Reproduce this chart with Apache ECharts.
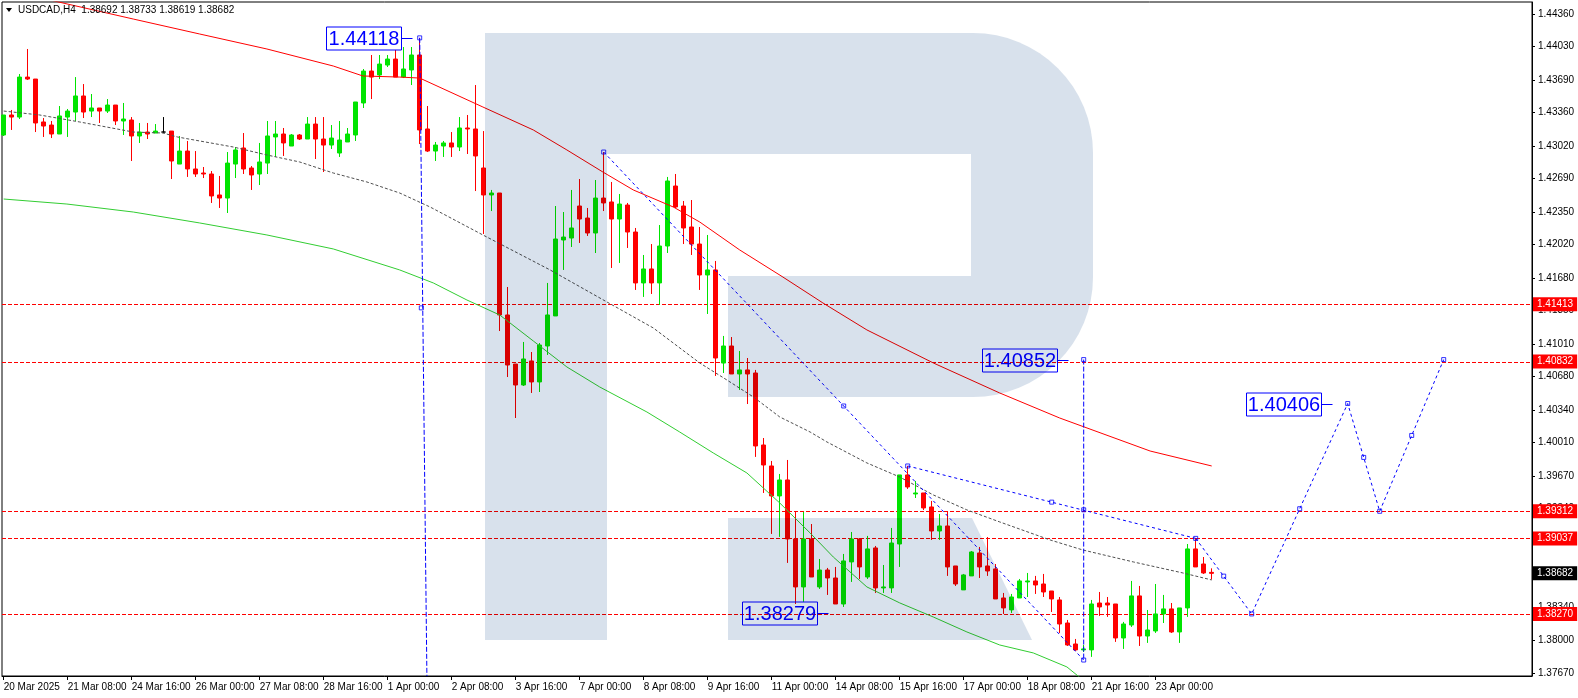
<!DOCTYPE html>
<html><head><meta charset="utf-8">
<script src="https://cdn.jsdelivr.net/npm/echarts@6/dist/echarts.min.js"></script>
<style>html,body{margin:0;padding:0;background:#fff;}#c{width:1578px;height:698px;}</style>
</head><body><div id="c"></div>
<script>
// ---- candles (H4 bars, index 0 = 20 Mar 2025 00:00) ----
const opens = [1.43132,1.43335,1.43314,1.43720,1.43700,1.43264,1.43233,1.43142,1.43314,1.43365,
1.43528,1.43375,1.43406,1.43375,1.43436,1.43274,1.43284,1.43122,1.43162,1.43152,
1.43162,1.43172,1.42837,1.42969,1.42787,1.42746,1.42736,1.42523,1.42492,1.42837,
1.43000,1.42797,1.42736,1.42847,1.43112,1.43142,1.43020,1.43132,1.43091,1.43243,
1.43091,1.43030,1.42949,1.43061,1.43132,1.43457,1.43781,1.43741,1.43842,1.43903,
1.43720,1.43792,1.43944,1.43193,1.42969,1.43020,1.43051,1.43010,1.43203,1.43193,
1.42797,1.42523,1.42543,1.41305,1.40807,1.40594,1.40838,1.40625,1.40990,1.41295,
1.42066,1.42086,1.42411,1.42289,1.42137,1.42492,1.42452,1.42279,1.42421,1.42147,
1.41630,1.41772,1.41630,1.42005,1.42614,1.42411,1.42198,1.42025,1.41711,1.41762,
1.40817,1.40990,1.40706,1.40747,1.40716,1.39985,1.39772,1.39468,1.39630,1.39031,
1.38544,1.39031,1.38544,1.38716,1.38635,1.38371,1.38798,1.39031,1.38645,1.38940,
1.38534,1.38534,1.38980,1.39681,1.39488,1.39498,1.39356,1.39112,1.39163,1.38757,
1.38514,1.38656,1.38889,1.38757,1.38727,1.38432,1.38311,1.38432,1.38595,1.38605,
1.38574,1.38503,1.38412,1.38178,1.37965,1.37905,1.37905,1.38381,1.38381,1.38371,
1.38026,1.38158,1.38453,1.38046,1.38097,1.38270,1.38321,1.38087,1.38331,1.38930,
1.38777,1.38692];
const highs = [1.43335,1.43386,1.43751,1.44005,1.43700,1.43304,1.43274,1.43426,1.43396,1.43720,
1.43649,1.43548,1.43406,1.43497,1.43436,1.43457,1.43314,1.43254,1.43254,1.43243,
1.43314,1.43172,1.43122,1.43071,1.42969,1.42807,1.42766,1.42716,1.42959,1.43010,
1.43152,1.42817,1.43051,1.43274,1.43274,1.43203,1.43142,1.43142,1.43314,1.43314,
1.43314,1.43233,1.43274,1.43203,1.43467,1.43802,1.43944,1.43944,1.43944,1.43995,
1.44025,1.44025,1.44118,1.43426,1.43061,1.43071,1.43162,1.43314,1.43335,1.43639,
1.43172,1.42574,1.42543,1.41589,1.40807,1.41031,1.40929,1.41020,1.41630,1.42411,
1.42350,1.42574,1.42685,1.42391,1.42675,1.42959,1.42655,1.42533,1.42442,1.42188,
1.41914,1.42025,1.42218,1.42706,1.42736,1.42462,1.42472,1.42198,1.42117,1.41853,
1.41092,1.41081,1.40939,1.40868,1.40747,1.40056,1.39823,1.39691,1.39833,1.39305,
1.39305,1.39183,1.38828,1.38737,1.38747,1.38879,1.39102,1.39041,1.39062,1.38960,
1.38767,1.39143,1.39681,1.39772,1.39620,1.39498,1.39417,1.39285,1.39305,1.38757,
1.38676,1.38909,1.38950,1.39051,1.38777,1.38483,1.38473,1.38625,1.38686,1.38656,
1.38676,1.38503,1.38442,1.38209,1.38016,1.37955,1.38412,1.38493,1.38442,1.38371,
1.38189,1.38605,1.38554,1.38310,1.38574,1.38463,1.38381,1.38331,1.38980,1.39041,
1.38848,1.38733];
const lows = [1.43122,1.43183,1.43294,1.43690,1.43162,1.43112,1.43101,1.43142,1.43112,1.43274,
1.43304,1.43314,1.43254,1.43355,1.43233,1.43132,1.42868,1.43051,1.43091,1.43152,
1.43152,1.42685,1.42837,1.42706,1.42706,1.42695,1.42442,1.42391,1.42340,1.42695,
1.42736,1.42574,1.42624,1.42736,1.42909,1.42919,1.43020,1.43081,1.43091,1.42888,
1.42756,1.42990,1.42909,1.43061,1.43071,1.43406,1.43497,1.43700,1.43822,1.43720,
1.43710,1.43639,1.43040,1.42959,1.42868,1.42909,1.42909,1.42969,1.42939,1.42563,
1.42127,1.42360,1.41142,1.40675,1.40259,1.40584,1.40513,1.40523,1.40899,1.41295,
1.41762,1.41995,1.42036,1.42107,1.41934,1.42360,1.41782,1.41833,1.41985,1.41559,
1.41488,1.41518,1.41406,1.41934,1.42391,1.42025,1.41914,1.41559,1.41315,1.40686,
1.40716,1.40706,1.40544,1.40401,1.39864,1.39498,1.39082,1.39052,1.38788,1.38371,
1.38392,1.38645,1.38524,1.38463,1.38371,1.38341,1.38595,1.38625,1.38625,1.38483,
1.38483,1.38483,1.38747,1.39539,1.39447,1.39325,1.39021,1.39021,1.38656,1.38554,
1.38514,1.38656,1.38635,1.38656,1.38422,1.38270,1.38280,1.38432,1.38442,1.38473,
1.38442,1.38290,1.38077,1.37945,1.37895,1.37884,1.37834,1.38250,1.38240,1.37986,
1.37915,1.38138,1.37945,1.37976,1.38077,1.38178,1.38077,1.37976,1.38240,1.38747,
1.38676,1.38619];
const closes = [1.43335,1.43314,1.43720,1.43700,1.43254,1.43223,1.43142,1.43325,1.43375,1.43528,
1.43365,1.43406,1.43375,1.43436,1.43274,1.43294,1.43122,1.43162,1.43142,1.43172,
1.43162,1.42868,1.42969,1.42787,1.42736,1.42736,1.42513,1.42492,1.42847,1.42980,
1.42787,1.42726,1.42858,1.43122,1.43142,1.43051,1.43132,1.43091,1.43243,1.43091,
1.43030,1.43101,1.43081,1.43142,1.43467,1.43781,1.43720,1.43852,1.43903,1.43720,
1.43802,1.43944,1.43183,1.42969,1.43030,1.43051,1.43010,1.43203,1.43193,1.42919,
1.42523,1.42543,1.41305,1.40797,1.40594,1.40858,1.40625,1.41000,1.41305,1.42076,
1.42096,1.42188,1.42279,1.42137,1.42492,1.42442,1.42279,1.42431,1.42147,1.41630,
1.41772,1.41630,1.42005,1.42665,1.42401,1.42188,1.42025,1.41711,1.41762,1.40868,
1.40990,1.40706,1.40747,1.40706,1.39975,1.39782,1.39468,1.39630,1.39031,1.38544,
1.39031,1.38645,1.38716,1.38635,1.38371,1.38808,1.39031,1.38747,1.38930,1.38534,
1.38544,1.38990,1.39681,1.39559,1.39498,1.39346,1.39112,1.39163,1.38747,1.38574,
1.38666,1.38899,1.38747,1.38706,1.38422,1.38331,1.38442,1.38605,1.38605,1.38564,
1.38493,1.38422,1.38168,1.37955,1.37905,1.37915,1.38371,1.38341,1.38361,1.38026,
1.38168,1.38453,1.38046,1.38107,1.38270,1.38321,1.38087,1.38331,1.38930,1.38747,
1.38686,1.38682];
const blackBars = [20];

// ---- axes ----
const xTickLabels = ['20 Mar 2025','21 Mar 08:00','24 Mar 16:00','26 Mar 00:00','27 Mar 08:00','28 Mar 16:00',
'1 Apr 00:00','2 Apr 08:00','3 Apr 16:00','7 Apr 00:00','8 Apr 08:00','9 Apr 16:00','11 Apr 00:00',
'14 Apr 08:00','15 Apr 16:00','17 Apr 00:00','18 Apr 08:00','21 Apr 16:00','23 Apr 00:00'];
const barsPerXLabel = 8;
const yTickLabels = ['1.37670','1.38000','1.38340','1.38670','1.39010','1.39340','1.39670','1.40010','1.40340',
'1.40680','1.41010','1.41350','1.41680','1.42020','1.42350','1.42690','1.43020','1.43360','1.43690','1.44030','1.44360'];
const X_MIN = -0.2125, X_MAX = 191.0375, Y_MIN = 1.37640, Y_MAX = 1.44482;

// ---- levels ----
const levels = [1.41413, 1.40832, 1.39312, 1.39037, 1.38270];
const lastPrice = 1.38682;
const header = 'USDCAD,H4  1.38692 1.38733 1.38619 1.38682';

// ---- moving averages [bar index, price] ----
const maRed = [[0,1.44614],[7.4,1.44472],[16.2,1.44309],[24.5,1.44157],[32.9,1.44005],[41.2,1.43832],
[44.9,1.43731],[49.5,1.43720],[52,1.43710],[59.9,1.43416],[66.2,1.43183],[70.4,1.42980],[74.9,1.42756],
[78.7,1.42574],[83.7,1.42401],[87,1.42249],[92,1.41965],[97.4,1.41690],[102.4,1.41427],[107.9,1.41153],
[116.2,1.40818],[124.5,1.40513],[132,1.40259],[143.3,1.39924],[151,1.39772]];
const maGreen = [[0,1.42482],[7.9,1.42431],[16.2,1.42350],[24.5,1.42239],[32.9,1.42117],[41.2,1.41975],
[49.5,1.41762],[53.7,1.41630],[57.9,1.41457],[62,1.41305],[66.2,1.41041],[70.4,1.40777],[74.5,1.40574],
[80.4,1.40320],[84.5,1.40117],[88.7,1.39904],[92.9,1.39701],[97,1.39397],[100.8,1.39092],[103.7,1.38848],
[107.9,1.38544],[112,1.38382],[116.2,1.38239],[120.4,1.38087],[124.5,1.37955],[128.7,1.37874],
[132.9,1.37732],[135.2,1.37580]];
const maGray = [[0,1.43375],[4.5,1.43335],[9.5,1.43264],[16.2,1.43162],[19.9,1.43152],[21.7,1.43112],
[28.7,1.43010],[32.9,1.42929],[37,1.42858],[41.2,1.42746],[45.4,1.42655],[49.5,1.42543],[53.3,1.42401],
[59.9,1.42117],[68.3,1.41762],[75.4,1.41437],[81.2,1.41173],[87,1.40818],[90.4,1.40645],[93.7,1.40473],
[97,1.40270],[100.8,1.40117],[102.9,1.40016],[107.9,1.39803],[112,1.39660],[116.2,1.39478],[120.4,1.39326],
[124.5,1.39204],[130.8,1.39021],[134.9,1.38919],[141.2,1.38798],[147.4,1.38686],[151,1.38615]];

// ---- drawn objects ----
const trendDown = [[75,1.42959],[135,1.37802]];
const trendUpper = [[113,1.39772],[149,1.39037]];
const forecastPath = [[149,1.39037],[156,1.38270],[168,1.40406],[172,1.39312],[180,1.40852]];
const vlineA = [[52,1.44118],[52.9,1.37640]];
const vlineB = [[135,1.40852],[135,1.37802]];
const handles = [[75,1.42959],[105,1.40381],[135,1.37802],[113,1.39772],[131,1.39405],[149,1.39037],
[152.5,1.38654],[156,1.38270],[162,1.39338],[168,1.40406],[170,1.39859],[172,1.39312],[176,1.40082],
[180,1.40852],[135,1.40852],[135,1.39327],[52,1.44118],[52.2,1.41377]];
const noteAnchors = [[51,1.44118],[133,1.40852],[166,1.40406],[103,1.38279]];
const noteTexts = ['1.44118','1.40852','1.40406','1.38279'];

const FONT = "'Liberation Sans',Arial,sans-serif";
const GREEN = '#00e400', RED = '#ff0000', BLUE = '#0000ff';

const candleData = opens.map((o, i) => {
  const v = [i, o, closes[i], lows[i], highs[i]];
  if (blackBars.includes(i)) return {value: v, itemStyle: {color:'#000', color0:'#000', borderColor:'#000', borderColor0:'#000', borderColorDoji:'#000'}};
  return v;
});
const xTickValues = xTickLabels.map((_, i) => i * barsPerXLabel);
const yTickValues = yTickLabels.map(Number);

const tagLabel = {show:true, position:'end', distance:1, formatter: p => Number(p.value).toFixed(5),
  backgroundColor: RED, color:'#fff', padding:[2,4,1,4], fontSize:10, fontFamily: FONT, lineHeight:11};
const LOGO = '#d8e1ec';
const logoStyle = {fill: LOGO, blend: 'multiply'};

const chart = echarts.init(document.getElementById('c'), null, {renderer:'canvas'});
chart.setOption({
  animation: false,
  backgroundColor: '#fff',
  grid: {left: 2, right: 46, top: 2, bottom: 22, show: true, borderColor: '#000', borderWidth: 1, backgroundColor: 'transparent'},
  graphic: [
    {type:'rect', z:100, silent:true, shape:{x:485, y:33, width:122, height:607}, style: logoStyle},
    {type:'rect', z:100, silent:true, shape:{x:607, y:33, width:364, height:121}, style: logoStyle},
    {type:'rect', z:100, silent:true, shape:{x:971, y:33, width:122, height:364, r:[0,120,120,0]}, style: logoStyle},
    {type:'rect', z:100, silent:true, shape:{x:728, y:276, width:243, height:121}, style: logoStyle},
    {type:'polygon', z:100, silent:true, shape:{points:[[728,518],[972,518],[1032,640],[728,640]]}, style: logoStyle},
    {type:'polygon', z:10, shape:{points:[[6,8],[12,8],[9,12]]}, style:{fill:'#000'}},
    {type:'text', z:10, x:18, y:10, style:{text: header, font: '10px ' + FONT, fill:'#000', verticalAlign:'middle'}}
  ],
  xAxis: {
    type:'value', min: X_MIN, max: X_MAX,
    axisLine:{show:true, onZero:false, lineStyle:{color:'#000', width:1}},
    axisTick:{show:true, length:4, customValues: xTickValues, lineStyle:{color:'#000'}},
    axisLabel:{customValues: xTickValues, formatter: v => xTickLabels[Math.round(v / barsPerXLabel)],
      align:'left', margin:6, color:'#000', fontSize:10, fontFamily: FONT,
      hideOverlap:false, showMinLabel:true, showMaxLabel:true},
    splitLine:{show:false}
  },
  yAxis: {
    type:'value', position:'right', min: Y_MIN, max: Y_MAX, scale:true,
    axisLine:{show:true, onZero:false, lineStyle:{color:'#000', width:1}},
    axisTick:{show:true, length:3, customValues: yTickValues, lineStyle:{color:'#000'}},
    axisLabel:{customValues: yTickValues, formatter: v => v.toFixed(5), margin:6, color:'#000', fontSize:10, fontFamily: FONT,
      hideOverlap:false, showMinLabel:true, showMaxLabel:true},
    splitLine:{show:false}
  },
  series: [
    {type:'custom', data: levels.map(v => [X_MIN, v]), silent:true, z:1, clip:false,
     renderItem: (params, api) => {
       const y = Math.round(api.coord([X_MIN, api.value(1)])[1]) + 0.5;
       const cs = params.coordSys;
       return {type:'line', shape:{x1: cs.x, y1: y, x2: cs.x + cs.width, y2: y},
         style:{stroke: RED, lineWidth:1, lineDash:[4,2]}};
     }},
    {type:'candlestick', data: candleData, barWidth: 4, z: 2, silent: true,
     itemStyle:{color: GREEN, color0: RED, borderColor: GREEN, borderColor0: RED, borderWidth: 1},
     markLine:{silent:true, symbol:['none','none'], precision:5, animation:false,
       lineStyle:{color:'rgba(0,0,0,0)', width:1},
       label: tagLabel,
       data: levels.map(v => ({yAxis: v})).concat([{yAxis: lastPrice, label:{backgroundColor:'#000'}}])}},
    {type:'line', data: maRed, showSymbol:false, silent:true, z:3, lineStyle:{color: RED, width:1}},
    {type:'line', data: maGreen, showSymbol:false, silent:true, z:3, lineStyle:{color:'#32cd32', width:1}},
    {type:'line', data: maGray, showSymbol:false, silent:true, z:3, lineStyle:{color:'#505050', width:1, type:[3,2]}},
    {type:'line', data: trendDown, showSymbol:false, silent:true, z:4, lineStyle:{color: BLUE, width:1, type:[3,3]}},
    {type:'line', data: trendUpper, showSymbol:false, silent:true, z:4, lineStyle:{color: BLUE, width:1, type:[3,3]}},
    {type:'line', data: forecastPath, showSymbol:false, silent:true, z:4, lineStyle:{color: BLUE, width:1, type:[3,3]}},
    {type:'line', data: vlineA, showSymbol:false, silent:true, z:4, lineStyle:{color: BLUE, width:1, type:[5,2]}},
    {type:'line', data: vlineB, showSymbol:false, silent:true, z:4, lineStyle:{color: BLUE, width:1, type:[5,2]}},
    {type:'scatter', data: handles, symbol:'rect', symbolSize:4, silent:true, z:5,
     itemStyle:{color:'rgba(255,255,255,0)', borderColor: BLUE, borderWidth:1}},
    {type:'custom', data: noteAnchors, silent:true, z:6, clip:false,
     renderItem: (params, api) => {
       const p = api.coord([api.value(0), api.value(1)]);
       const w = 75, h = 23, gap = 11;
       const x0 = Math.round(p[0]) + 0.5, y0 = Math.round(p[1]) + 0.5;
       return {type:'group', children:[
         {type:'rect', shape:{x: x0 - gap - w, y: y0 - h/2, width: w, height: h}, style:{fill:'none', stroke: BLUE, lineWidth:1}},
         {type:'text', style:{text: noteTexts[params.dataIndex], x: x0 - gap - w/2, y: y0 + 1, align:'center', verticalAlign:'middle',
           fill: BLUE, font: "20px 'Liberation Sans', Arial, sans-serif"}},
         {type:'line', shape:{x1: x0 - gap, y1: y0, x2: x0, y2: y0}, style:{stroke: BLUE, lineWidth:1}}
       ]};
     }}
  ]
});
</script></body></html>
